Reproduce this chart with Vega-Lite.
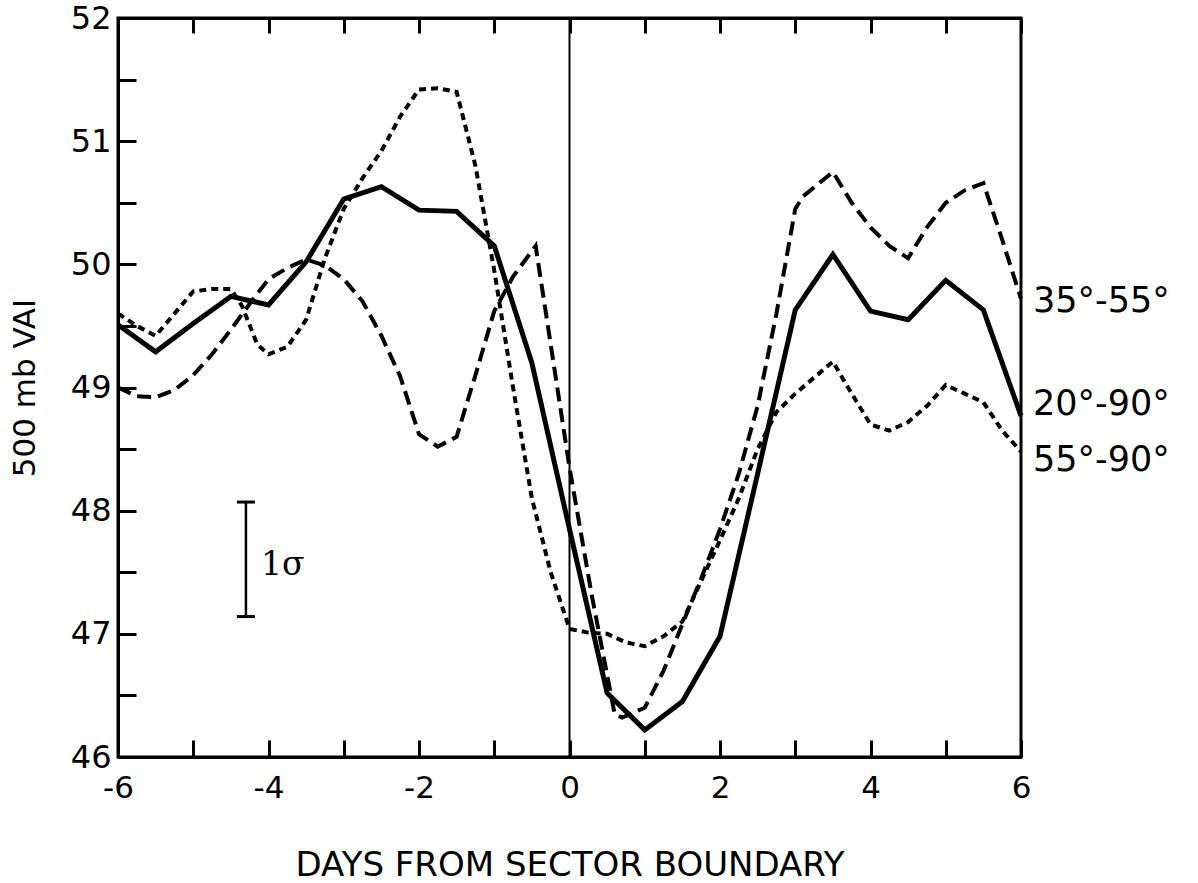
{
  "$schema": "https://vega.github.io/schema/vega-lite/v6.json",
  "width": 903,
  "height": 739,
  "autosize": {"type": "none"},
  "padding": {"left": 118, "top": 18, "right": 177, "bottom": 126},
  "background": "white",
  "config": {"view": {"stroke": "black", "strokeWidth": 3}, "font": "DejaVu Sans"},
  "datasets": {
    "curves": [
      {"band": "20°-90°", "day": -6, "vai": 49.51},
      {"band": "20°-90°", "day": -5.5, "vai": 49.29},
      {"band": "20°-90°", "day": -5, "vai": 49.52},
      {"band": "20°-90°", "day": -4.5, "vai": 49.74},
      {"band": "20°-90°", "day": -4, "vai": 49.67},
      {"band": "20°-90°", "day": -3.5, "vai": 50.02},
      {"band": "20°-90°", "day": -3, "vai": 50.53},
      {"band": "20°-90°", "day": -2.5, "vai": 50.63},
      {"band": "20°-90°", "day": -2, "vai": 50.44},
      {"band": "20°-90°", "day": -1.5, "vai": 50.43},
      {"band": "20°-90°", "day": -1, "vai": 50.15},
      {"band": "20°-90°", "day": -0.5, "vai": 49.2},
      {"band": "20°-90°", "day": 0, "vai": 47.85},
      {"band": "20°-90°", "day": 0.5, "vai": 46.52},
      {"band": "20°-90°", "day": 1, "vai": 46.22},
      {"band": "20°-90°", "day": 1.5, "vai": 46.45},
      {"band": "20°-90°", "day": 2, "vai": 46.98},
      {"band": "20°-90°", "day": 2.5, "vai": 48.3},
      {"band": "20°-90°", "day": 3, "vai": 49.63},
      {"band": "20°-90°", "day": 3.5, "vai": 50.08},
      {"band": "20°-90°", "day": 4, "vai": 49.62},
      {"band": "20°-90°", "day": 4.5, "vai": 49.55},
      {"band": "20°-90°", "day": 5, "vai": 49.87},
      {"band": "20°-90°", "day": 5.5, "vai": 49.63},
      {"band": "20°-90°", "day": 6, "vai": 48.77},

      {"band": "35°-55°", "day": -6, "vai": 49.0},
      {"band": "35°-55°", "day": -5.75, "vai": 48.93},
      {"band": "35°-55°", "day": -5.5, "vai": 48.92},
      {"band": "35°-55°", "day": -5.25, "vai": 48.98},
      {"band": "35°-55°", "day": -5, "vai": 49.1},
      {"band": "35°-55°", "day": -4.75, "vai": 49.27},
      {"band": "35°-55°", "day": -4.5, "vai": 49.47},
      {"band": "35°-55°", "day": -4.25, "vai": 49.68},
      {"band": "35°-55°", "day": -4, "vai": 49.88},
      {"band": "35°-55°", "day": -3.75, "vai": 49.97},
      {"band": "35°-55°", "day": -3.5, "vai": 50.04},
      {"band": "35°-55°", "day": -3.25, "vai": 49.99},
      {"band": "35°-55°", "day": -3, "vai": 49.88},
      {"band": "35°-55°", "day": -2.75, "vai": 49.7},
      {"band": "35°-55°", "day": -2.5, "vai": 49.42},
      {"band": "35°-55°", "day": -2.25, "vai": 49.09},
      {"band": "35°-55°", "day": -2, "vai": 48.62},
      {"band": "35°-55°", "day": -1.75, "vai": 48.52},
      {"band": "35°-55°", "day": -1.5, "vai": 48.6},
      {"band": "35°-55°", "day": -1.25, "vai": 49.1},
      {"band": "35°-55°", "day": -1, "vai": 49.62},
      {"band": "35°-55°", "day": -0.75, "vai": 49.9},
      {"band": "35°-55°", "day": -0.45, "vai": 50.15},
      {"band": "35°-55°", "day": 0, "vai": 48.35},
      {"band": "35°-55°", "day": 0.3, "vai": 47.3},
      {"band": "35°-55°", "day": 0.6, "vai": 46.35},
      {"band": "35°-55°", "day": 0.7, "vai": 46.32},
      {"band": "35°-55°", "day": 1, "vai": 46.4},
      {"band": "35°-55°", "day": 1.25, "vai": 46.7},
      {"band": "35°-55°", "day": 1.5, "vai": 47.08},
      {"band": "35°-55°", "day": 1.75, "vai": 47.45},
      {"band": "35°-55°", "day": 2, "vai": 47.85},
      {"band": "35°-55°", "day": 2.25, "vai": 48.3},
      {"band": "35°-55°", "day": 2.5, "vai": 48.85},
      {"band": "35°-55°", "day": 2.75, "vai": 49.6},
      {"band": "35°-55°", "day": 3, "vai": 50.45},
      {"band": "35°-55°", "day": 3.1, "vai": 50.55},
      {"band": "35°-55°", "day": 3.5, "vai": 50.75},
      {"band": "35°-55°", "day": 3.75, "vai": 50.5},
      {"band": "35°-55°", "day": 4, "vai": 50.3},
      {"band": "35°-55°", "day": 4.25, "vai": 50.15},
      {"band": "35°-55°", "day": 4.5, "vai": 50.05},
      {"band": "35°-55°", "day": 4.75, "vai": 50.3},
      {"band": "35°-55°", "day": 5, "vai": 50.5},
      {"band": "35°-55°", "day": 5.25, "vai": 50.6},
      {"band": "35°-55°", "day": 5.5, "vai": 50.66},
      {"band": "35°-55°", "day": 5.75, "vai": 50.2},
      {"band": "35°-55°", "day": 6, "vai": 49.72},

      {"band": "55°-90°", "day": -6, "vai": 49.6},
      {"band": "55°-90°", "day": -5.75, "vai": 49.5},
      {"band": "55°-90°", "day": -5.5, "vai": 49.42},
      {"band": "55°-90°", "day": -5.25, "vai": 49.6},
      {"band": "55°-90°", "day": -5, "vai": 49.78},
      {"band": "55°-90°", "day": -4.75, "vai": 49.8},
      {"band": "55°-90°", "day": -4.5, "vai": 49.8},
      {"band": "55°-90°", "day": -4.35, "vai": 49.66},
      {"band": "55°-90°", "day": -4.15, "vai": 49.35},
      {"band": "55°-90°", "day": -4, "vai": 49.27},
      {"band": "55°-90°", "day": -3.75, "vai": 49.33},
      {"band": "55°-90°", "day": -3.5, "vai": 49.55},
      {"band": "55°-90°", "day": -3.25, "vai": 50.05},
      {"band": "55°-90°", "day": -3, "vai": 50.45},
      {"band": "55°-90°", "day": -2.75, "vai": 50.7},
      {"band": "55°-90°", "day": -2.5, "vai": 50.92},
      {"band": "55°-90°", "day": -2.25, "vai": 51.2},
      {"band": "55°-90°", "day": -2, "vai": 51.42},
      {"band": "55°-90°", "day": -1.75, "vai": 51.43},
      {"band": "55°-90°", "day": -1.5, "vai": 51.4},
      {"band": "55°-90°", "day": -1.25, "vai": 50.8},
      {"band": "55°-90°", "day": -1, "vai": 49.95},
      {"band": "55°-90°", "day": -0.75, "vai": 49.0},
      {"band": "55°-90°", "day": -0.5, "vai": 48.1},
      {"band": "55°-90°", "day": -0.25, "vai": 47.5},
      {"band": "55°-90°", "day": 0, "vai": 47.04},
      {"band": "55°-90°", "day": 0.25, "vai": 47.01},
      {"band": "55°-90°", "day": 0.5, "vai": 47.0},
      {"band": "55°-90°", "day": 0.75, "vai": 46.93},
      {"band": "55°-90°", "day": 1, "vai": 46.9},
      {"band": "55°-90°", "day": 1.25, "vai": 46.98},
      {"band": "55°-90°", "day": 1.5, "vai": 47.1},
      {"band": "55°-90°", "day": 1.75, "vai": 47.43},
      {"band": "55°-90°", "day": 2, "vai": 47.76},
      {"band": "55°-90°", "day": 2.25, "vai": 48.1},
      {"band": "55°-90°", "day": 2.5, "vai": 48.5},
      {"band": "55°-90°", "day": 2.75, "vai": 48.8},
      {"band": "55°-90°", "day": 3, "vai": 48.95},
      {"band": "55°-90°", "day": 3.25, "vai": 49.08},
      {"band": "55°-90°", "day": 3.5, "vai": 49.21},
      {"band": "55°-90°", "day": 3.75, "vai": 48.95},
      {"band": "55°-90°", "day": 4, "vai": 48.7},
      {"band": "55°-90°", "day": 4.25, "vai": 48.65},
      {"band": "55°-90°", "day": 4.5, "vai": 48.72},
      {"band": "55°-90°", "day": 4.75, "vai": 48.85},
      {"band": "55°-90°", "day": 5, "vai": 49.02},
      {"band": "55°-90°", "day": 5.25, "vai": 48.95},
      {"band": "55°-90°", "day": 5.5, "vai": 48.88},
      {"band": "55°-90°", "day": 5.75, "vai": 48.65},
      {"band": "55°-90°", "day": 6, "vai": 48.48}
    ],
    "labels": [
      {"band": "35°-55°", "day": 6, "vai": 49.61},
      {"band": "20°-90°", "day": 6, "vai": 48.78},
      {"band": "55°-90°", "day": 6, "vai": 48.32}
    ],
    "sigma": [
      {"day": -4.3, "vai": 47.14, "vai2": 48.07}
    ],
    "sigmaText": [
      {"day": -4.1, "vai": 47.48, "text": "1σ"}
    ],
    "zero": [
      {"day": 0}
    ]
  },
  "layer": [
    {
      "data": {"name": "curves"},
      "transform": [{"filter": "datum.band == '20°-90°'"}],
      "mark": {"type": "line", "color": "black", "strokeWidth": 5, "strokeJoin": "miter"},
      "encoding": {
        "x": {
          "field": "day", "type": "quantitative",
          "scale": {"domain": [-6, 6], "nice": false, "zero": false},
          "axis": {
            "orient": "bottom",
            "values": [-6, -5, -4, -3, -2, -1, 0, 1, 2, 3, 4, 5, 6],
            "labelExpr": "datum.value % 2 == 0 ? (datum.value < 0 ? '-' : '') + abs(datum.value) : ''",
            "grid": false,
            "domainColor": "black", "domainWidth": 3,
            "tickColor": "black", "tickWidth": 3, "tickSize": -17,
            "labelFontSize": 31, "labelColor": "black", "labelPadding": 33,
            "labelFlush": false,
            "title": "DAYS FROM SECTOR BOUNDARY",
            "titleFontSize": 34, "titleFontWeight": "normal", "titleColor": "black",
            "titleBaseline": "alphabetic", "titleY": 118
          }
        },
        "y": {
          "field": "vai", "type": "quantitative",
          "scale": {"domain": [46, 52], "nice": false, "zero": false},
          "axis": {
            "orient": "left",
            "values": [46, 46.5, 47, 47.5, 48, 48.5, 49, 49.5, 50, 50.5, 51, 51.5, 52],
            "labelExpr": "datum.value % 1 == 0 ? '' + datum.value : ''",
            "grid": false,
            "domainColor": "black", "domainWidth": 3,
            "tickColor": "black", "tickWidth": 3, "tickSize": -18,
            "labelFontSize": 32, "labelColor": "black", "labelPadding": 25,
            "labelFlush": false,
            "title": "500 mb VAI",
            "titleFontSize": 31, "titleFontWeight": "normal", "titleColor": "black",
            "titleBaseline": "middle", "titleX": -93
          }
        }
      }
    },
    {
      "data": {"name": "curves"},
      "transform": [{"filter": "datum.band != '20°-90°'"}],
      "mark": {"type": "line", "color": "black", "strokeWidth": 4},
      "encoding": {
        "x": {"field": "day", "type": "quantitative", "axis": null},
        "y": {"field": "vai", "type": "quantitative", "axis": null},
        "detail": {"field": "band"},
        "strokeDash": {
          "field": "band", "type": "nominal",
          "scale": {"domain": ["35°-55°", "55°-90°"], "range": [[14, 7], [7, 5]]},
          "legend": null
        }
      }
    },
    {
      "data": {"name": "zero"},
      "mark": {"type": "rule", "color": "black", "strokeWidth": 2},
      "encoding": {
        "x": {
          "field": "day", "type": "quantitative",
          "axis": {
            "orient": "top",
            "values": [-6, -5, -4, -3, -2, -1, 0, 1, 2, 3, 4, 5, 6],
            "labels": false, "title": null, "grid": false,
            "domainColor": "black", "domainWidth": 3,
            "tickColor": "black", "tickWidth": 3, "tickSize": -15
          }
        }
      }
    },
    {
      "data": {"name": "sigma"},
      "mark": {"type": "rule", "color": "black", "strokeWidth": 2.5},
      "encoding": {
        "x": {"field": "day", "type": "quantitative", "axis": null},
        "y": {"field": "vai", "type": "quantitative", "axis": null},
        "y2": {"field": "vai2"}
      }
    },
    {
      "data": {"name": "sigma"},
      "mark": {"type": "tick", "color": "black", "opacity": 1, "orient": "horizontal", "size": 18, "thickness": 3},
      "encoding": {
        "x": {"field": "day", "type": "quantitative", "axis": null},
        "y": {"field": "vai", "type": "quantitative", "axis": null}
      }
    },
    {
      "data": {"name": "sigma"},
      "mark": {"type": "tick", "color": "black", "opacity": 1, "orient": "horizontal", "size": 18, "thickness": 3},
      "encoding": {
        "x": {"field": "day", "type": "quantitative", "axis": null},
        "y": {"field": "vai2", "type": "quantitative", "axis": null}
      }
    },
    {
      "data": {"name": "sigmaText"},
      "mark": {"type": "text", "font": "DejaVu Serif", "fontSize": 33, "align": "left", "baseline": "alphabetic", "color": "black"},
      "encoding": {
        "x": {"field": "day", "type": "quantitative", "axis": null},
        "y": {"field": "vai", "type": "quantitative", "axis": null},
        "text": {"field": "text"}
      }
    },
    {
      "data": {"name": "labels"},
      "mark": {"type": "text", "fontSize": 35, "align": "left", "baseline": "alphabetic", "dx": 12, "color": "black"},
      "encoding": {
        "x": {"field": "day", "type": "quantitative", "axis": null},
        "y": {"field": "vai", "type": "quantitative", "axis": null},
        "text": {"field": "band"}
      }
    }
  ],
  "resolve": {"axis": {"x": "independent", "y": "independent"}}
}
